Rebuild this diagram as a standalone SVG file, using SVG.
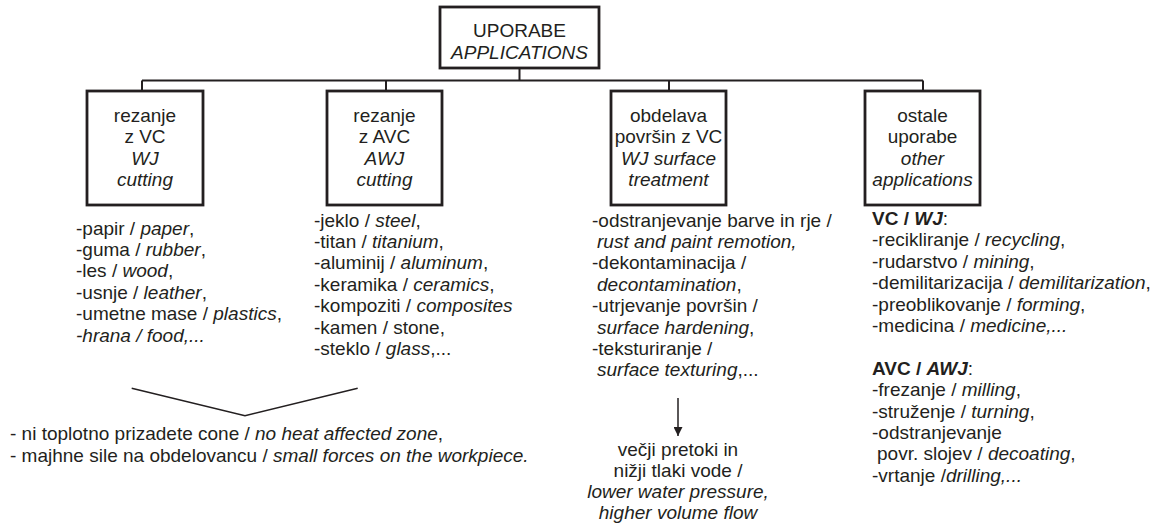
<svg xmlns="http://www.w3.org/2000/svg" width="1155" height="525" viewBox="0 0 1155 525">
<defs>
<style>
text{font-family:"Liberation Sans",Arial,sans-serif;font-size:19px;fill:#231f20}
.c{text-anchor:middle}
.i{font-style:italic}
.b{font-weight:bold}
.box{fill:#fff;stroke:#231f20;stroke-width:2.8}
.ln{fill:none;stroke:#231f20;stroke-width:2}
.thin{fill:none;stroke:#231f20;stroke-width:1.5}
</style>
<marker id="ah" viewBox="0 0 10 10" refX="10" refY="5" markerWidth="9" markerHeight="9" markerUnits="userSpaceOnUse" orient="auto">
<path d="M0,0 L10,5 L0,10 z" fill="#231f20"/>
</marker>
</defs>
<rect width="1155" height="525" fill="#fff"/>
<g id="connectors">
<path class="ln" d="M519.5,68 V80.5 M142,80.5 H923 M142,80.5 V91 M386,80.5 V91 M669,80.5 V91 M923,80.5 V91"/>
<path class="thin" d="M131.7,388.3 L245,415.7 L357.7,388.3"/>
<path class="thin" d="M678,398 V436" marker-end="url(#ah)"/>
</g>
<g id="root">
<rect class="box" x="440" y="7" width="159" height="61"/>
<text class="c" x="519.5" y="37">UPORABE</text>
<text class="c i" x="519.5" y="59">APPLICATIONS</text>
</g>
<g id="node-wj-cutting">
<rect class="box" x="87" y="91" width="116" height="114"/>
<text class="c" x="145" y="121.5">rezanje</text>
<text class="c" x="145" y="143">z VC</text>
<text class="c i" x="145" y="164.5">WJ</text>
<text class="c i" x="145" y="186">cutting</text>
</g>
<g id="node-awj-cutting">
<rect class="box" x="327" y="91" width="115" height="114"/>
<text class="c" x="384.5" y="121.5">rezanje</text>
<text class="c" x="384.5" y="143">z AVC</text>
<text class="c i" x="384.5" y="164.5">AWJ</text>
<text class="c i" x="384.5" y="186">cutting</text>
</g>
<g id="node-surface">
<rect class="box" x="611" y="91" width="115" height="114"/>
<text class="c" x="668.5" y="121.5">obdelava</text>
<text class="c" x="668.5" y="143">površin z VC</text>
<text class="c i" x="668.5" y="164.5">WJ surface</text>
<text class="c i" x="668.5" y="186">treatment</text>
</g>
<g id="node-other">
<rect class="box" x="865" y="91" width="115" height="114"/>
<text class="c" x="922.5" y="121.5">ostale</text>
<text class="c" x="922.5" y="143">uporabe</text>
<text class="c i" x="922.5" y="164.5">other</text>
<text class="c i" x="922.5" y="186">applications</text>
</g>
<g id="list-wj">
<text x="76" y="234.5">-papir / <tspan class="i">paper</tspan>,</text>
<text x="76" y="256">-guma / <tspan class="i">rubber</tspan>,</text>
<text x="76" y="277.4">-les / <tspan class="i">wood</tspan>,</text>
<text x="76" y="298.8">-usnje / <tspan class="i">leather</tspan>,</text>
<text x="76" y="320.2">-umetne mase / <tspan class="i">plastics</tspan>,</text>
<text class="i" x="76" y="341.6">-hrana / food,...</text>
</g>
<g id="list-awj">
<text x="314" y="226.5">-jeklo / <tspan class="i">steel</tspan>,</text>
<text x="314" y="247.9">-titan / <tspan class="i">titanium</tspan>,</text>
<text x="314" y="269.3">-aluminij / <tspan class="i">aluminum</tspan>,</text>
<text x="314" y="290.7">-keramika / <tspan class="i">ceramics</tspan>,</text>
<text x="314" y="312.1">-kompoziti / <tspan class="i">composites</tspan></text>
<text x="314" y="333.5">-kamen / stone,</text>
<text x="314" y="354.9">-steklo / <tspan class="i">glass</tspan>,...</text>
</g>
<g id="list-surface">
<text x="592" y="226.5">-odstranjevanje barve in rje /</text>
<text class="i" x="597" y="247.9">rust and paint remotion,</text>
<text x="592" y="269.3">-dekontaminacija /</text>
<text x="597" y="290.7"><tspan class="i">decontamination</tspan>,</text>
<text x="592" y="312.1">-utrjevanje površin /</text>
<text x="597" y="333.5"><tspan class="i">surface hardening</tspan>,</text>
<text x="592" y="354.9">-teksturiranje /</text>
<text x="597" y="376.3"><tspan class="i">surface texturing</tspan>,...</text>
</g>
<g id="list-other">
<text x="872" y="225"><tspan class="b">VC / </tspan><tspan class="b i">WJ</tspan>:</text>
<text x="872" y="246.4">-recikliranje / <tspan class="i">recycling</tspan>,</text>
<text x="872" y="267.8">-rudarstvo / <tspan class="i">mining</tspan>,</text>
<text x="872" y="289.2">-demilitarizacija / <tspan class="i">demilitarization</tspan>,</text>
<text x="872" y="310.6">-preoblikovanje / <tspan class="i">forming</tspan>,</text>
<text x="872" y="332">-medicina / <tspan class="i">medicine,...</tspan></text>
<text x="872" y="374.8"><tspan class="b">AVC / </tspan><tspan class="b i">AWJ</tspan>:</text>
<text x="872" y="396.2">-frezanje / <tspan class="i">milling</tspan>,</text>
<text x="872" y="417.6">-struženje / <tspan class="i">turning</tspan>,</text>
<text x="872" y="439">-odstranjevanje</text>
<text x="877" y="460.4">povr. slojev / <tspan class="i">decoating</tspan>,</text>
<text x="872" y="481.8">-vrtanje /<tspan class="i">drilling,...</tspan></text>
</g>
<g id="note-cutting">
<text x="10" y="440">- ni toplotno prizadete cone / <tspan class="i">no heat affected zone</tspan>,</text>
<text x="10" y="461.5">- majhne sile na obdelovancu / <tspan class="i">small forces on the workpiece.</tspan></text>
</g>
<g id="note-surface">
<text class="c" x="678" y="456">večji pretoki in</text>
<text class="c" x="678" y="477">nižji tlaki vode /</text>
<text class="c i" x="678" y="498">lower water pressure,</text>
<text class="c i" x="678" y="518.5">higher volume flow</text>
</g>
</svg>
